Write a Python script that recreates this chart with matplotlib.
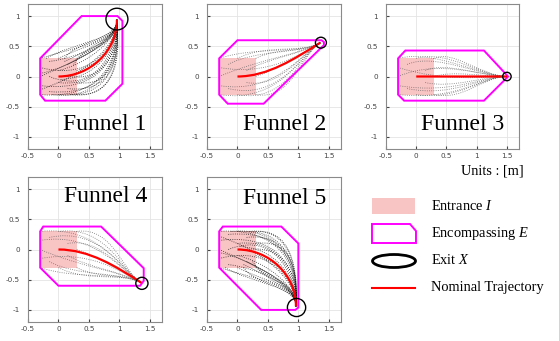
import numpy as np
import matplotlib
matplotlib.use('Agg')
import matplotlib.pyplot as plt
from matplotlib.path import Path
from matplotlib.patches import PathPatch, Polygon, Rectangle, Circle, Ellipse

plt.rcParams['mathtext.fontset'] = 'custom'
plt.rcParams['mathtext.rm'] = 'Liberation Serif'
plt.rcParams['mathtext.it'] = 'Liberation Serif:italic'

# %% data (units: m)

names = ['Funnel 1', 'Funnel 2', 'Funnel 3', 'Funnel 4', 'Funnel 5']

# entrance set I (same box for every funnel)
entrance = [-0.3, -0.3, 0.6, 0.6]   # x, y, w, h

# encompassing set E (polygon corners)
poly1 = [(-0.3, 0.3), (-0.3, -0.3), (-0.22, -0.4), (0.77, -0.4), (1.05, -0.12),
         (1.05, 0.92), (0.97, 1.0), (0.38, 1.0)]
poly2 = [(-0.3, 0.3), (-0.3, -0.3), (-0.16, -0.45), (0.43, -0.45), (1.42, 0.52),
         (1.42, 0.57), (1.38, 0.6), (0.0, 0.6)]
poly3 = [(-0.3, 0.3), (-0.3, -0.3), (-0.2, -0.4), (1.12, -0.4), (1.52, 0.0),
         (1.12, 0.43), (-0.18, 0.43)]
poly4 = [(-0.3, 0.3), (-0.25, 0.38), (0.7, 0.38), (1.4, -0.31), (1.4, -0.52),
         (1.34, -0.6), (0.0, -0.6), (-0.3, -0.3)]
poly5 = [(-0.3, 0.3), (-0.24, 0.38), (0.72, 0.38), (1.0, 0.1), (1.0, -0.96),
         (0.95, -1.0), (0.39, -1.0), (-0.3, -0.3)]

# nominal trajectory (cubic bezier control points)
nom1 = [(0, 0), (0.52, 0.0), (0.96, 0.42), (0.96, 0.94)]
nom2 = [(0, 0), (0.5, 0.0), (0.95, 0.3), (1.36, 0.56)]
nom3 = [(0, 0), (0.5, 0.0), (1.0, 0.0), (1.5, 0.0)]
nom4 = [(0, 0), (0.5, 0.0), (0.95, -0.28), (1.36, -0.55)]
nom5 = [(0, 0), (0.52, 0.0), (0.96, -0.42), (0.96, -0.94)]

# where the sampled trajectories join the nominal one
merge1 = (0.98, 0.6)
merge2 = (1.05, 0.37)
merge3 = (1.1, 0.0)
merge4 = (1.05, -0.37)
merge5 = (0.98, -0.6)

# exit set X (centre x, centre y, radius)
exit1 = (0.96, 0.95, 0.18)
exit2 = (1.37, 0.56, 0.09)
exit3 = (1.5, 0.0, 0.07)
exit4 = (1.37, -0.56, 0.1)
exit5 = (0.97, -0.96, 0.15)

# sampled trajectories: start point + first bezier handle
start1_x = [-0.3, -0.3, -0.3, -0.3, -0.3, -0.15, -0.15, -0.15, 0.0, 0.0, 0.0, 0.0,
            0.15, 0.15, 0.15, 0.3, 0.3, 0.3, 0.3, -0.3, 0.1, 0.2, -0.3, 0.05,
            -0.2, 0.25, -0.1, 0.1]
start1_y = [0.3, 0.15, 0.0, -0.15, -0.3, 0.25, 0.0, -0.25, 0.3, 0.1, -0.1, -0.3,
            0.2, 0.0, -0.2, 0.3, 0.1, -0.1, -0.3, 0.05, 0.25, -0.3, -0.22, -0.05,
            0.3, 0.2, -0.3, 0.3]
ctrl1_x = [0.35, 0.6, 0.5, 0.9, 0.95, 0.3, 0.7, 1.0, 0.5, 0.45, 0.8, 1.05,
           0.6, 0.9, 1.05, 0.6, 0.8, 1.0, 1.05, 0.2, 0.4, 1.1, 0.6, 0.75,
           0.2, 0.5, 0.95, 0.3]
ctrl1_y = [0.5, -0.1, 0.35, -0.3, -0.4, 0.3, -0.35, -0.35, 0.55, 0.2, -0.2, -0.4,
           0.45, -0.1, -0.3, 0.5, 0.25, -0.2, -0.35, 0.15, 0.4, -0.4, 0.1, 0.0,
           0.55, 0.6, -0.42, 0.6]

start2_x = [-0.3, -0.3, -0.3, -0.3, -0.3, -0.15, -0.15, 0.0, 0.0, 0.15, 0.15, 0.3, 0.3, 0.3]
start2_y = [0.3, 0.15, 0.0, -0.15, -0.3, 0.2, -0.2, 0.3, -0.3, 0.1, -0.1, 0.3, 0.0, -0.3]
ctrl2_x = [0.3, 0.5, 0.4, 0.6, 0.7, 0.3, 0.7, 0.5, 0.8, 0.5, 0.7, 0.7, 0.6, 0.9]
ctrl2_y = [0.5, 0.0, 0.3, -0.3, -0.45, 0.45, -0.4, 0.55, -0.45, 0.3, -0.2, 0.5, 0.1, -0.4]

start3_x = [-0.3, -0.3, -0.3, -0.3, -0.3, -0.15, -0.15, 0.0, 0.0, 0.15, 0.15, 0.3, 0.3, 0.3]
start3_y = [0.3, 0.15, 0.0, -0.15, -0.3, 0.2, -0.2, 0.3, -0.3, 0.1, -0.1, 0.3, 0.0, -0.3]
ctrl3_x = [0.3, 0.5, 0.4, 0.6, 0.7, 0.3, 0.6, 0.5, 0.7, 0.5, 0.6, 0.6, 0.6, 0.8]
ctrl3_y = [0.45, -0.1, 0.3, -0.3, -0.4, 0.4, -0.35, 0.45, -0.4, 0.25, -0.2, 0.45, 0.1, -0.4]

start4_x = [-0.3, -0.3, -0.3, -0.3, -0.3, -0.15, -0.15, 0.0, 0.0, 0.15, 0.15, 0.3, 0.3, 0.3]
start4_y = [-0.3, -0.15, 0.0, 0.15, 0.3, -0.2, 0.2, -0.3, 0.3, -0.1, 0.1, -0.3, 0.0, 0.3]
ctrl4_x = [0.3, 0.5, 0.4, 0.6, 0.7, 0.3, 0.7, 0.5, 0.8, 0.5, 0.7, 0.7, 0.6, 0.9]
ctrl4_y = [-0.5, 0.0, -0.3, 0.3, 0.4, -0.45, 0.38, -0.55, 0.4, -0.3, 0.2, -0.5, -0.1, 0.38]

start5_x = [-0.3, -0.3, -0.3, -0.3, -0.3, -0.15, -0.15, -0.15, 0.0, 0.0, 0.0, 0.0,
            0.15, 0.15, 0.15, 0.3, 0.3, 0.3, 0.3, -0.3, 0.1, 0.2, -0.3, 0.05,
            -0.2, 0.25, -0.1, 0.1]
start5_y = [-0.3, -0.15, 0.0, 0.15, 0.3, -0.25, 0.0, 0.25, -0.3, -0.1, 0.1, 0.3,
            -0.2, 0.0, 0.2, -0.3, -0.1, 0.1, 0.3, -0.05, -0.25, 0.3, 0.22, 0.05,
            -0.3, -0.2, 0.3, -0.3]
ctrl5_x = [0.35, 0.6, 0.5, 0.9, 0.95, 0.3, 0.7, 1.0, 0.5, 0.45, 0.8, 1.0,
           0.6, 0.9, 1.0, 0.6, 0.8, 1.0, 1.0, 0.2, 0.4, 1.0, 0.6, 0.75,
           0.2, 0.5, 0.95, 0.3]
ctrl5_y = [-0.5, 0.1, -0.35, 0.3, 0.38, -0.3, 0.35, 0.35, -0.55, -0.2, 0.2, 0.38,
           -0.45, 0.1, 0.3, -0.5, -0.25, 0.2, 0.35, -0.15, -0.4, 0.38, -0.1, 0.0,
           -0.55, -0.6, 0.38, -0.6]

polys = [poly1, poly2, poly3, poly4, poly5]
noms = [nom1, nom2, nom3, nom4, nom5]
merges = [merge1, merge2, merge3, merge4, merge5]
exits = [exit1, exit2, exit3, exit4, exit5]
trajs = [(start1_x, start1_y, ctrl1_x, ctrl1_y), (start2_x, start2_y, ctrl2_x, ctrl2_y),
         (start3_x, start3_y, ctrl3_x, ctrl3_y), (start4_x, start4_y, ctrl4_x, ctrl4_y),
         (start5_x, start5_y, ctrl5_x, ctrl5_y)]
traj_color = ['black', '#555555', '#555555', '#555555', 'black']

# %% layout in pixels (left, top, right, bottom) and label centres

W, H = 559, 341
boxes = [(28, 4, 162, 149), (207, 4, 341, 149), (386, 4, 519, 149),
         (28, 177, 162, 322), (207, 177, 341, 322)]
label_pos = [(105, 125), (285, 125), (463, 125), (106, 197), (285, 198)]

CURVE = [Path.MOVETO, Path.CURVE4, Path.CURVE4, Path.CURVE4]

fig = plt.figure(figsize=(W / 100, H / 100), dpi=100)

for i in range(5):
    l, t, r, b = boxes[i]
    ax = fig.add_axes([l / W, 1 - b / H, (r - l) / W, (b - t) / H])
    ax.set_xlim(-0.5, 1.7)
    ax.set_ylim(-1.2, 1.2)
    ax.set_xticks([-0.5, 0, 0.5, 1, 1.5])
    ax.set_xticklabels(['-0.5', '0', '0.5', '1', '1.5'])
    ax.set_yticks([-1, -0.5, 0, 0.5, 1])
    ax.set_yticklabels(['-1', '-0.5', '0', '0.5', '1'])
    ax.tick_params(labelsize=5.2, colors='#444444', length=2, direction='in', pad=3)
    ax.tick_params(axis='y', pad=6)
    ax.grid(True, color='#e4e4e4', lw=0.6)
    ax.set_axisbelow(True)
    for s in ax.spines.values():
        s.set_color('#8a8a8a')
        s.set_linewidth(0.8)

    ax.add_patch(Rectangle(entrance[:2], entrance[2], entrance[3],
                           facecolor='#f9c4c4', edgecolor='none', zorder=1))

    sx, sy, cx, cy = trajs[i]
    nom = noms[i]
    for k in range(len(sx)):
        p = Path([(sx[k], sy[k]), (cx[k], cy[k]), merges[i], nom[3]], CURVE)
        ax.add_patch(PathPatch(p, fill=False, ls=':', lw=0.6,
                               ec=traj_color[i], alpha=0.8, zorder=2))

    ax.add_patch(Polygon(polys[i], closed=True, fill=False, ec='#ff00ff', lw=1.4, zorder=3))
    ax.add_patch(PathPatch(Path(nom, CURVE), fill=False, ec='red', lw=1.6, zorder=4))
    ex, ey, er = exits[i]
    ax.add_patch(Circle((ex, ey), er, fill=False, ec='black', lw=1.0, zorder=5))

# %% overlay for labels and legend (pixel coords)

ov = fig.add_axes([0, 0, 1, 1])
ov.set_xlim(0, W)
ov.set_ylim(H, 0)
ov.axis('off')

for name, (x, y) in zip(names, label_pos):
    ov.text(x, y, name, family='Liberation Serif', fontsize=17, ha='center', va='center')

ov.text(492, 171, 'Units : [m]', family='Liberation Serif', fontsize=10.3,
        ha='center', va='center')

ov.add_patch(Rectangle((372, 198), 43, 16, facecolor='#f9c4c4', edgecolor='none'))
ov.add_patch(Polygon([(372, 224), (410, 224), (416, 231), (416, 243), (372, 243)],
                     closed=True, fill=False, ec='#ff00ff', lw=1.4))
ov.add_patch(Ellipse((394, 261), 43, 13, fill=False, ec='black', lw=2))
ov.plot([372, 415], [288, 288], color='red', lw=1.5)

leg_text = ['Entrance $I$', 'Encompassing $E$', 'Exit $X$', 'Nominal Trajectory']
leg_y = [206, 233, 260, 288]
for s, y in zip(leg_text, leg_y):
    ov.text(431, y, s, family='Liberation Serif', fontsize=10.4, ha='left', va='center')

fig.savefig('out.png', dpi=100)
